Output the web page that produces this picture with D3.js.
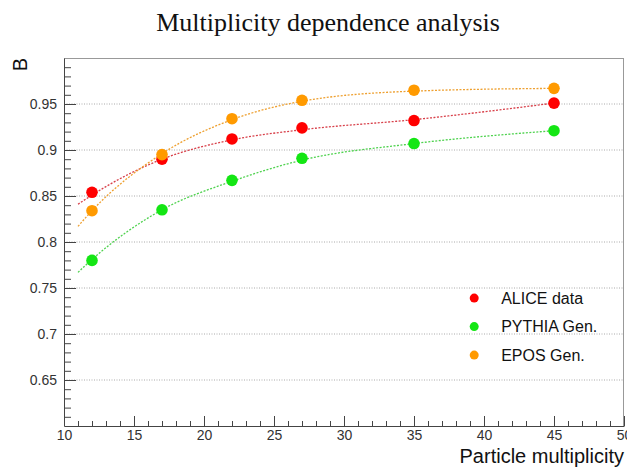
<!DOCTYPE html>
<html>
<head>
<meta charset="utf-8">
<script src="https://cdn.jsdelivr.net/npm/d3@7"></script>
<style>
  body { margin: 0; background: #fff; }
  svg { display: block; }
  .tick text { font-family: "Liberation Sans", Arial, sans-serif; font-size: 14px; fill: #333; }
  .axis path, .axis line { stroke: #444; }
</style>
</head>
<body>
<svg width="627" height="468"></svg>
<script>
var svg = d3.select("svg");

var margin = { top: 58, right: 3, bottom: 42, left: 64 };
var width = 627 - margin.left - margin.right;
var height = 468 - margin.top - margin.bottom;

// measured points
var multiplicity = [12, 17, 22, 27, 35, 45];
var aliceData = [0.854, 0.890, 0.912, 0.924, 0.932, 0.951];
var pythiaGen = [0.780, 0.835, 0.867, 0.891, 0.907, 0.921];
var eposGen = [0.834, 0.895, 0.934, 0.954, 0.965, 0.967];

// fit curves (dashed)
var fitX = [11, 12, 17, 22, 27, 35, 45];
var aliceFit = [0.841, 0.851, 0.890, 0.911, 0.922, 0.933, 0.951];
var pythiaFit = [0.767, 0.781, 0.835, 0.866, 0.889, 0.907, 0.921];
var eposFit = [0.817, 0.834, 0.896, 0.933, 0.953, 0.964, 0.967];

var xMajor = [10, 15, 20, 25, 30, 35, 40, 45, 50];
var yMajor = [0.65, 0.7, 0.75, 0.8, 0.85, 0.9, 0.95];

var series = [
    { name: "ALICE data", values: aliceData, fit: aliceFit, color: "#ff0000", line: "#d8404a" },
    { name: "PYTHIA Gen.", values: pythiaGen, fit: pythiaFit, color: "#14e614", line: "#4fd24f" },
    { name: "EPOS Gen.", values: eposGen, fit: eposFit, color: "#ff9a00", line: "#eea030" }
];

var xScale = d3.scaleLinear().domain([10, 50]).range([0, width]);
var yScale = d3.scaleLinear().domain([0.6, 1.0]).range([height, 0]);

var g = svg.append("g").attr("transform", `translate(${margin.left},${margin.top})`);

// horizontal dotted grid
g.selectAll(".grid")
    .data(yMajor)
    .enter()
    .append("line")
    .attr("x1", 0)
    .attr("x2", width)
    .attr("y1", d => yScale(d))
    .attr("y2", d => yScale(d))
    .attr("stroke", "#aaa")
    .attr("stroke-width", 1)
    .attr("stroke-dasharray", "1,1.5");

// frame top and right
g.append("line").attr("x1", 0).attr("x2", width).attr("y1", 0.5).attr("y2", 0.5)
    .attr("stroke", "#999");
g.append("line").attr("x1", width - 0.5).attr("x2", width - 0.5).attr("y1", 0).attr("y2", height)
    .attr("stroke", "#999");

// minor ticks
g.append("g")
    .attr("class", "axis")
    .attr("transform", `translate(0,${height})`)
    .call(d3.axisBottom(xScale).tickValues(d3.range(11, 50, 1)).tickSize(-5).tickFormat(""))
    .select(".domain").remove();
g.append("g")
    .attr("class", "axis")
    .call(d3.axisLeft(yScale).tickValues(d3.range(61, 100, 1).map(d => d / 100)).tickSize(-7).tickFormat(""))
    .select(".domain").remove();

// major ticks with labels
g.append("g")
    .attr("class", "axis")
    .attr("transform", `translate(0,${height})`)
    .call(d3.axisBottom(xScale).tickValues(xMajor).tickSizeInner(-10).tickSizeOuter(0).tickPadding(4).tickFormat(d3.format("d")));
g.append("g")
    .attr("class", "axis")
    .call(d3.axisLeft(yScale).tickValues(yMajor).tickSizeInner(-12).tickSizeOuter(0).tickPadding(7)
        .tickFormat(d => String(+d.toFixed(2))));

// fit lines
var fitLine = d3.line()
    .x((d, i) => xScale(fitX[i]))
    .y(d => yScale(d))
    .curve(d3.curveMonotoneX);

g.selectAll(".fit")
    .data(series)
    .enter()
    .append("path")
    .attr("d", d => fitLine(d.fit))
    .attr("fill", "none")
    .attr("stroke", d => d.line)
    .attr("stroke-width", 1.3)
    .attr("stroke-dasharray", "2,1.5");

// markers
series.forEach(function (s) {
    g.selectAll(null)
        .data(s.values)
        .enter()
        .append("circle")
        .attr("cx", (d, i) => xScale(multiplicity[i]))
        .attr("cy", d => yScale(d))
        .attr("r", 5.8)
        .attr("fill", s.color);
});

// legend
var legend = g.append("g").attr("transform", `translate(${xScale(39.3)},${yScale(0.739)})`);
var rows = legend.selectAll("g")
    .data(series)
    .enter()
    .append("g")
    .attr("transform", (d, i) => `translate(0,${i * 28.5})`);
rows.append("circle").attr("r", 4.5).attr("fill", d => d.color);
rows.append("text")
    .attr("x", 27)
    .attr("dy", "0.36em")
    .attr("font-family", "Liberation Sans, Arial, sans-serif")
    .attr("font-size", 16)
    .attr("fill", "#111")
    .text(d => d.name);

// title and axis titles
svg.append("text")
    .attr("x", 328)
    .attr("y", 31)
    .attr("text-anchor", "middle")
    .attr("font-family", "Liberation Serif, Times New Roman, serif")
    .attr("font-size", 26)
    .attr("fill", "#111")
    .text("Multiplicity dependence analysis");

svg.append("text")
    .attr("transform", "translate(27,58) rotate(-90)")
    .attr("text-anchor", "end")
    .attr("font-family", "Liberation Sans, Arial, sans-serif")
    .attr("font-size", 20)
    .attr("fill", "#111")
    .text("B");

svg.append("text")
    .attr("x", 624)
    .attr("y", 463)
    .attr("text-anchor", "end")
    .attr("font-family", "Liberation Sans, Arial, sans-serif")
    .attr("font-size", 20)
    .attr("fill", "#111")
    .text("Particle multiplicity");
</script>
</body>
</html>
